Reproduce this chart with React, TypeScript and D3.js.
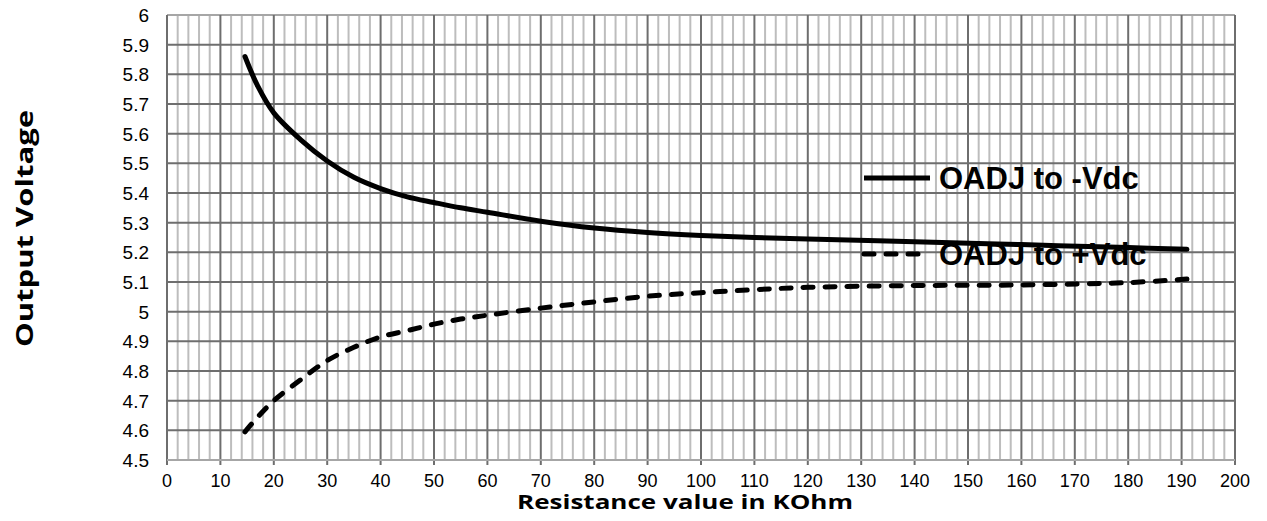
import React, { useRef, useEffect } from 'react';
import * as d3 from 'd3';

// resistance in KOhm
const resistance = [14.6, 17, 20, 25, 30, 35, 40, 45, 50, 55, 60, 70, 80, 90, 100, 110, 120, 140, 160, 180, 191];
const toMinusVdc = [5.86, 5.76, 5.67, 5.58, 5.508, 5.453, 5.415, 5.387, 5.368, 5.35, 5.335, 5.305, 5.282, 5.267, 5.257, 5.25, 5.245, 5.236, 5.226, 5.216, 5.21];
const toPlusVdc = [4.595, 4.645, 4.70, 4.77, 4.835, 4.88, 4.915, 4.936, 4.958, 4.975, 4.988, 5.012, 5.033, 5.052, 5.064, 5.074, 5.082, 5.088, 5.09, 5.098, 5.11];
const xTicks = d3.range(0, 201, 10);
const yTicks = [4.5, 4.6, 4.7, 4.8, 4.9, 5, 5.1, 5.2, 5.3, 5.4, 5.5, 5.6, 5.7, 5.8, 5.9, 6];
const seriesNames = ['OADJ to -Vdc', 'OADJ to +Vdc'];

function App() {
  const chartRef = useRef<SVGSVGElement>(null);

  useEffect(() => {
    drawChart();
  }, []);

  const drawChart = () => {
    const svgWidth = 1267;
    const svgHeight = 521;
    const margin = { top: 15, right: 32, bottom: 61, left: 167 };
    const width = svgWidth - margin.left - margin.right;
    const height = svgHeight - margin.top - margin.bottom;
    const font = 'Arial, "Liberation Sans", sans-serif';
    const titleFont = '"Open Sans", "DejaVu Sans", sans-serif';

    d3.select(chartRef.current).selectAll('*').remove();

    const root = d3.select(chartRef.current)
      .attr('width', svgWidth)
      .attr('height', svgHeight)
      .style('display', 'block');

    const svg = root.append('g')
      .attr('transform', `translate(${margin.left},${margin.top})`);

    const xScale = d3.scaleLinear().domain([0, 200]).range([0, width]);
    const yScale = d3.scaleLinear().domain([4.5, 6]).range([height, 0]);

    // minor vertical grid every 2
    svg.append('g')
      .selectAll('line')
      .data(d3.range(0, 201, 2).filter(v => v % 10 !== 0))
      .enter().append('line')
      .attr('x1', d => xScale(d)).attr('x2', d => xScale(d))
      .attr('y1', 0).attr('y2', height)
      .attr('stroke', '#bdbdbd').attr('stroke-width', 2);

    // top border
    svg.append('line')
      .attr('x1', 0).attr('x2', width).attr('y1', 0).attr('y2', 0)
      .attr('stroke', '#a6a6a6').attr('stroke-width', 2);

    // major horizontal grid
    svg.append('g')
      .selectAll('line')
      .data(yTicks.slice(1, -1))
      .enter().append('line')
      .attr('x1', 0).attr('x2', width)
      .attr('y1', d => yScale(d)).attr('y2', d => yScale(d))
      .attr('stroke', '#6e6e6e').attr('stroke-width', 2);

    // major vertical grid
    svg.append('g')
      .selectAll('line')
      .data(xTicks)
      .enter().append('line')
      .attr('x1', d => xScale(d)).attr('x2', d => xScale(d))
      .attr('y1', 0).attr('y2', height + 5)
      .attr('stroke', '#6e6e6e').attr('stroke-width', 2);

    // bottom axis line
    svg.append('line')
      .attr('x1', 0).attr('x2', width).attr('y1', height).attr('y2', height)
      .attr('stroke', '#a6a6a6').attr('stroke-width', 2);

    // tick labels
    svg.append('g')
      .selectAll('text')
      .data(xTicks)
      .enter().append('text')
      .attr('x', d => xScale(d))
      .attr('y', height + 27)
      .attr('text-anchor', 'middle')
      .attr('font-family', font)
      .attr('font-size', 18)
      .attr('fill', '#000')
      .text(d => d);

    svg.append('g')
      .selectAll('text')
      .data(yTicks)
      .enter().append('text')
      .attr('x', -18)
      .attr('y', d => yScale(d) + 7)
      .attr('text-anchor', 'end')
      .attr('font-family', font)
      .attr('font-size', 19)
      .attr('fill', '#000')
      .text(d => d);

    const line = (vals: number[]) => d3.line<number>()
      .x((d, i) => xScale(resistance[i]))
      .y(d => yScale(d))
      .curve(d3.curveCatmullRom.alpha(0.5))(vals);

    svg.append('path')
      .attr('d', line(toMinusVdc))
      .attr('fill', 'none')
      .attr('stroke', '#000')
      .attr('stroke-width', 5)
      .attr('stroke-linecap', 'round');

    svg.append('path')
      .attr('d', line(toPlusVdc))
      .attr('fill', 'none')
      .attr('stroke', '#000')
      .attr('stroke-width', 5)
      .attr('stroke-dasharray', '10,12')
      .attr('stroke-linecap', 'round');

    // legend
    const legend = [
      { label: seriesNames[0], y: 163, dash: null },
      { label: seriesNames[1], y: 239, dash: '10,12' },
    ];
    legend.forEach(l => {
      svg.append('line')
        .attr('x1', 697).attr('x2', 763)
        .attr('y1', l.y).attr('y2', l.y)
        .attr('stroke', '#000')
        .attr('stroke-width', 5)
        .attr('stroke-linecap', l.dash ? 'round' : 'butt')
        .attr('stroke-dasharray', l.dash);
      svg.append('text')
        .attr('x', 772)
        .attr('y', l.y + 11)
        .attr('font-family', font)
        .attr('font-weight', 'bold')
        .attr('font-size', 31)
        .attr('fill', '#000')
        .text(l.label);
    });

    // axis titles
    root.append('text')
      .attr('x', 517)
      .attr('y', 509)
      .attr('textLength', 336)
      .attr('lengthAdjust', 'spacingAndGlyphs')
      .attr('font-family', titleFont)
      .attr('font-weight', 'bold')
      .attr('font-size', 19)
      .attr('fill', '#000')
      .text('Resistance value in KOhm');

    root.append('text')
      .attr('transform', `translate(33, 347) rotate(-90)`)
      .attr('textLength', 237)
      .attr('lengthAdjust', 'spacingAndGlyphs')
      .attr('font-family', titleFont)
      .attr('font-weight', 'bold')
      .attr('font-size', 24)
      .attr('fill', '#000')
      .text('Output Voltage');
  };

  return (
    <div style={{ margin: -8 }}>
      <svg ref={chartRef}></svg>
    </div>
  );
}

export default App;
